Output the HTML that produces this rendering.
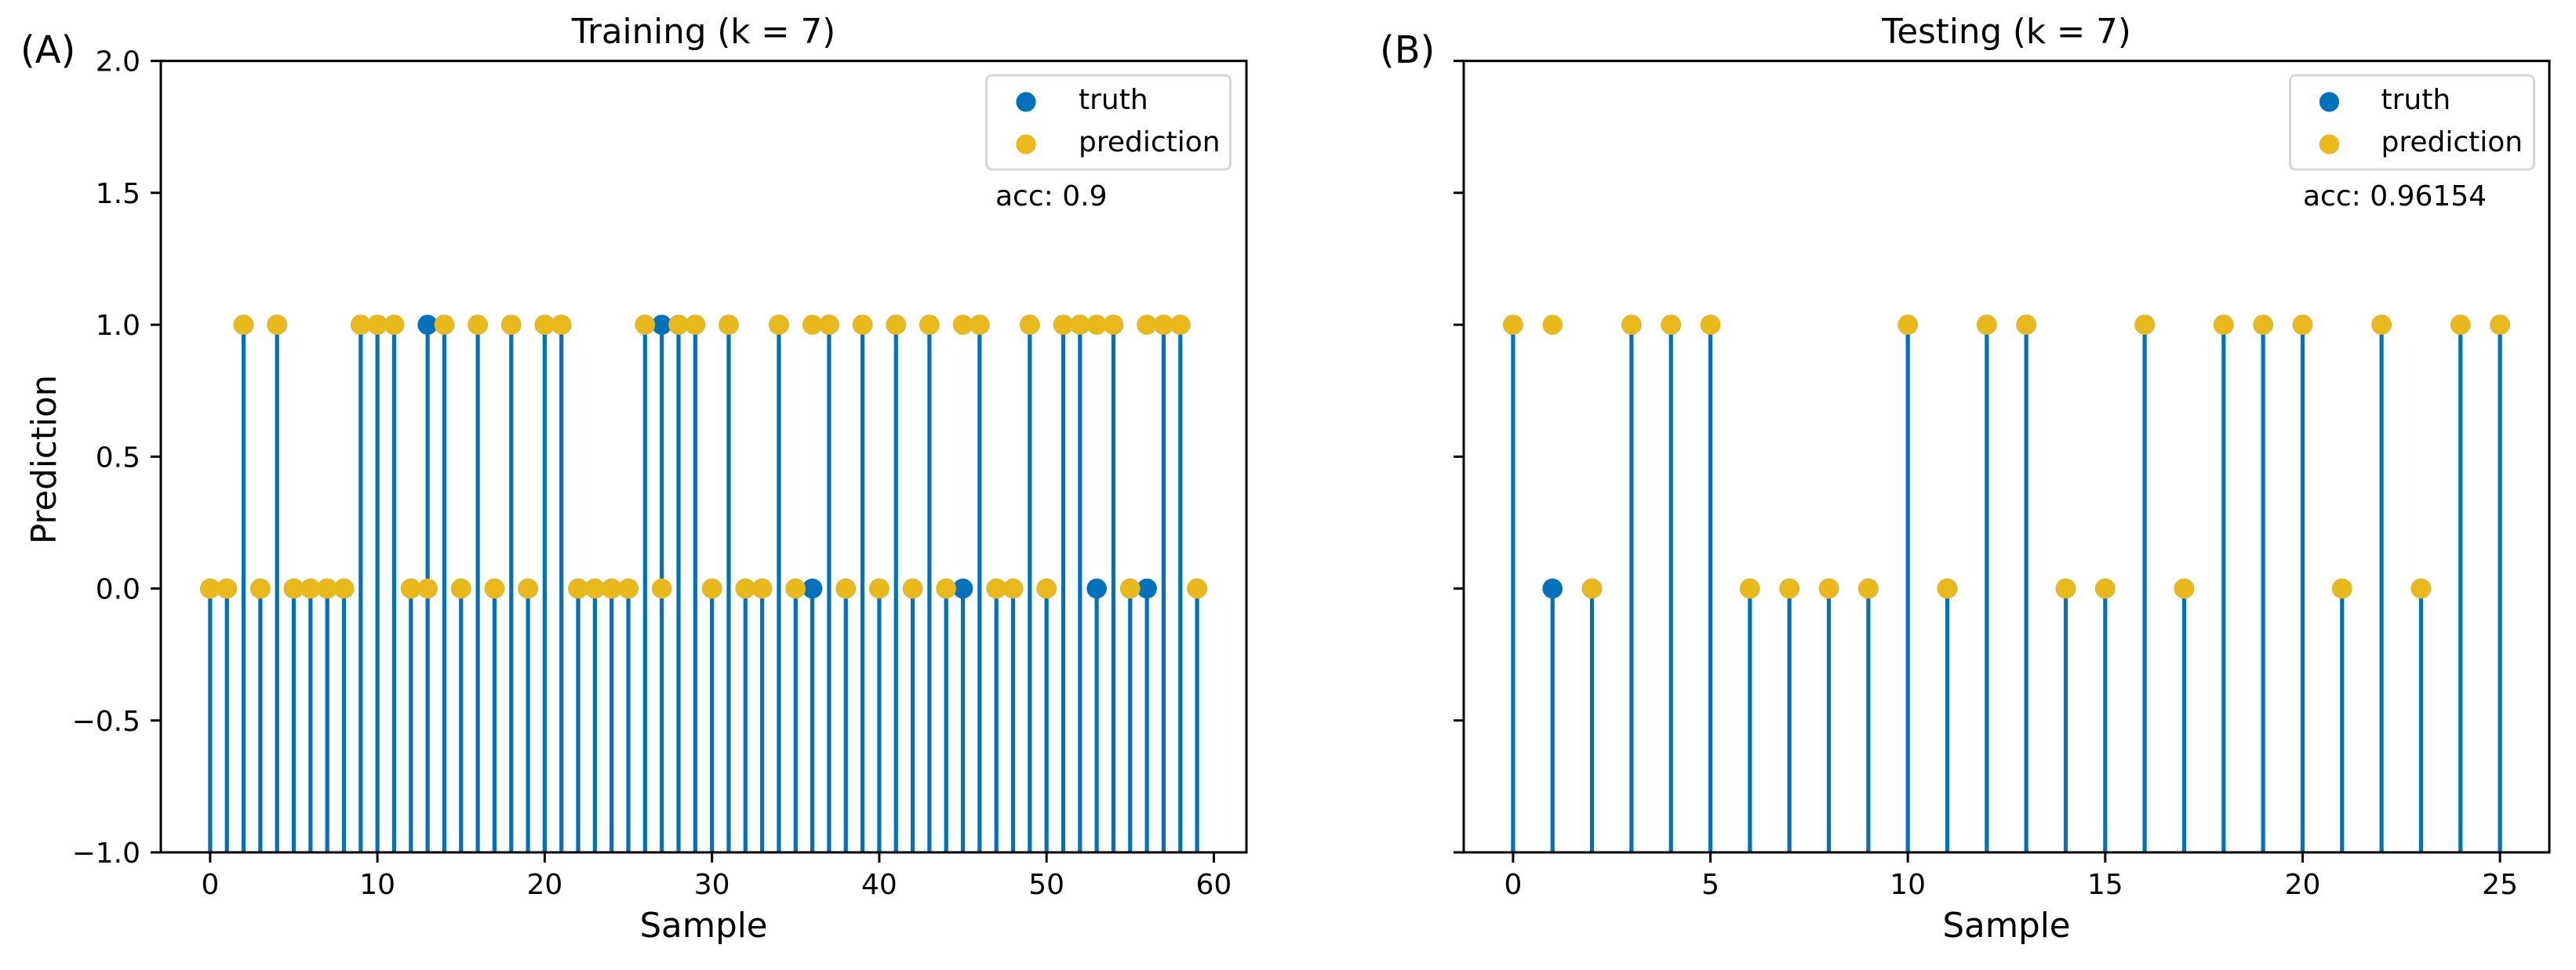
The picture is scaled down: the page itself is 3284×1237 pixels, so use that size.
<!DOCTYPE html>
<html lang="en">
<head>
<meta charset="utf-8">
<title>Training and Testing predictions (k = 7)</title>
<style>
  html, body { margin: 0; padding: 0; background: #ffffff; }
  svg { display: block; }
  text { font-family: "DejaVu Sans", "Liberation Sans", sans-serif; fill: #000000; }
</style>
</head>
<body>
<svg id="figure" xmlns="http://www.w3.org/2000/svg" width="3284" height="1237" viewBox="0 0 3284 1237">
  <rect x="0" y="0" width="3284" height="1237" fill="#ffffff"/>
  <g id="panel-a"></g>
  <g id="panel-b"></g>

  <text x="26" y="80" font-size="48">(A)</text>
  <text x="1759" y="80" font-size="48">(B)</text>
  <text x="897" y="55" font-size="43.5" text-anchor="middle">Training (k = 7)</text>
  <text x="2558" y="55" font-size="43.5" text-anchor="middle">Testing (k = 7)</text>
  <text x="897" y="1195" font-size="43.5" text-anchor="middle">Sample</text>
  <text x="2558" y="1195" font-size="43.5" text-anchor="middle">Sample</text>
  <text transform="translate(71 586) rotate(-90)" font-size="43.5" text-anchor="middle">Prediction</text>

  <g>
    <rect x="1257.5" y="96" width="311" height="120" rx="7" ry="7" fill="#ffffff" stroke="#d6d6d6" stroke-width="3"/>
    <circle cx="1308" cy="130" r="12.6" fill="#0072BD"/>
    <text x="1375" y="139" font-size="36">truth</text>
    <circle cx="1308" cy="184" r="12.6" fill="#ECB91B"/>
    <text x="1375" y="193" font-size="36">prediction</text>
  </g>
  <text x="1269" y="262" font-size="36">acc: 0.9</text>

  <g>
    <rect x="2919.5" y="96" width="311" height="120" rx="7" ry="7" fill="#ffffff" stroke="#d6d6d6" stroke-width="3"/>
    <circle cx="2969.5" cy="130" r="12.6" fill="#0072BD"/>
    <text x="3035.5" y="139" font-size="36">truth</text>
    <circle cx="2969.5" cy="184" r="12.6" fill="#ECB91B"/>
    <text x="3035.5" y="193" font-size="36">prediction</text>
  </g>
  <text x="2936" y="262" font-size="36">acc: 0.96154</text>
</svg>

<script>
// Chart data
const trainingTruth = [
  0,0,1,0,1,0,0,0,0,1,
  1,1,0,1,1,0,1,0,1,0,
  1,1,0,0,0,0,1,1,1,1,
  0,1,0,0,1,0,0,1,0,1,
  0,1,0,1,0,0,1,0,0,1,
  0,1,1,0,1,0,0,1,1,0
];
const trainingPrediction = [
  0,0,1,0,1,0,0,0,0,1,
  1,1,0,0,1,0,1,0,1,0,
  1,1,0,0,0,0,1,0,1,1,
  0,1,0,0,1,0,1,1,0,1,
  0,1,0,1,0,1,1,0,0,1,
  0,1,1,1,1,0,1,1,1,0
];
const testingTruth = [
  1,0,0,1,1,1,0,0,0,0,
  1,0,1,1,0,0,1,0,1,1,
  1,0,1,0,1,1
];
const testingPrediction = [
  1,1,0,1,1,1,0,0,0,0,
  1,0,1,1,0,0,1,0,1,1,
  1,0,1,0,1,1
];
const trainingXTicks = [0, 10, 20, 30, 40, 50, 60];
const testingXTicks = [0, 5, 10, 15, 20, 25];
const yTicks = [-1.0, -0.5, 0.0, 0.5, 1.0, 1.5, 2.0];
const trainingXDomain = [-2.95, 61.95];
const testingXDomain = [-1.25, 26.25];
const yDomain = [-1, 2];

const SVG_NS = 'http://www.w3.org/2000/svg';
const BLUE = '#0072BD';
const YELLOW = '#E9B81A';
const PLOT_TOP = 77.7;
const PLOT_BOTTOM = 1087;

function make(parent, tag, attrs) {
  const el = document.createElementNS(SVG_NS, tag);
  Object.keys(attrs).forEach(function (key) { el.setAttribute(key, attrs[key]); });
  parent.appendChild(el);
  return el;
}

function formatY(value) {
  return (value < 0 ? '\u2212' : '') + Math.abs(value).toFixed(1);
}

function drawPanel(panelId, prefix, left, right, xDomain, xTicks, truth, prediction, showYLabels) {
  const panel = document.getElementById(panelId);
  const xScale = function (v) {
    return left + (v - xDomain[0]) / (xDomain[1] - xDomain[0]) * (right - left);
  };
  const yScale = function (v) {
    return PLOT_BOTTOM - (v - yDomain[0]) / (yDomain[1] - yDomain[0]) * (PLOT_BOTTOM - PLOT_TOP);
  };

  // Stems
  truth.forEach(function (value, i) {
    const stem = make(panel, 'line', {
      x1: xScale(i), x2: xScale(i), y1: yScale(yDomain[0]), y2: yScale(value),
      stroke: BLUE, 'stroke-width': 5.2
    });
    
    
  });

  // Truth markers
  truth.forEach(function (value, i) {
    const dot = make(panel, 'circle', { cx: xScale(i), cy: yScale(value), r: 12.8, fill: BLUE });
    
    
  });

  // Prediction markers
  prediction.forEach(function (value, i) {
    const dot = make(panel, 'circle', { cx: xScale(i), cy: yScale(value), r: 12.8, fill: YELLOW });
    
    
  });

  // Frame
  const frame = make(panel, 'rect', {
    x: left, y: PLOT_TOP, width: right - left, height: PLOT_BOTTOM - PLOT_TOP,
    fill: 'none', stroke: '#000000', 'stroke-width': 3
  });
  
  

  // X ticks
  xTicks.forEach(function (tick) {
    const mark = make(panel, 'line', {
      x1: xScale(tick), x2: xScale(tick), y1: PLOT_BOTTOM, y2: PLOT_BOTTOM + 13,
      stroke: '#000000', 'stroke-width': 3
    });
    
    
    const label = make(panel, 'text', {
      x: xScale(tick), y: 1140, 'font-size': 36, 'text-anchor': 'middle'
    });
    label.textContent = String(tick);
    
    
  });

  // Y ticks
  yTicks.forEach(function (tick) {
    const mark = make(panel, 'line', {
      x1: left - 13, x2: left, y1: yScale(tick), y2: yScale(tick),
      stroke: '#000000', 'stroke-width': 3
    });
    
    
    if (showYLabels) {
      const label = make(panel, 'text', {
        x: left - 26, y: yScale(tick) + 13, 'font-size': 36, 'text-anchor': 'end'
      });
      label.textContent = formatY(tick);
      
      
    }
  });
}

drawPanel('panel-a', 'training', 205, 1589, trainingXDomain, trainingXTicks, trainingTruth, trainingPrediction, true);
drawPanel('panel-b', 'testing', 1866, 3250, testingXDomain, testingXTicks, testingTruth, testingPrediction, false);
</script>
</body>
</html>
